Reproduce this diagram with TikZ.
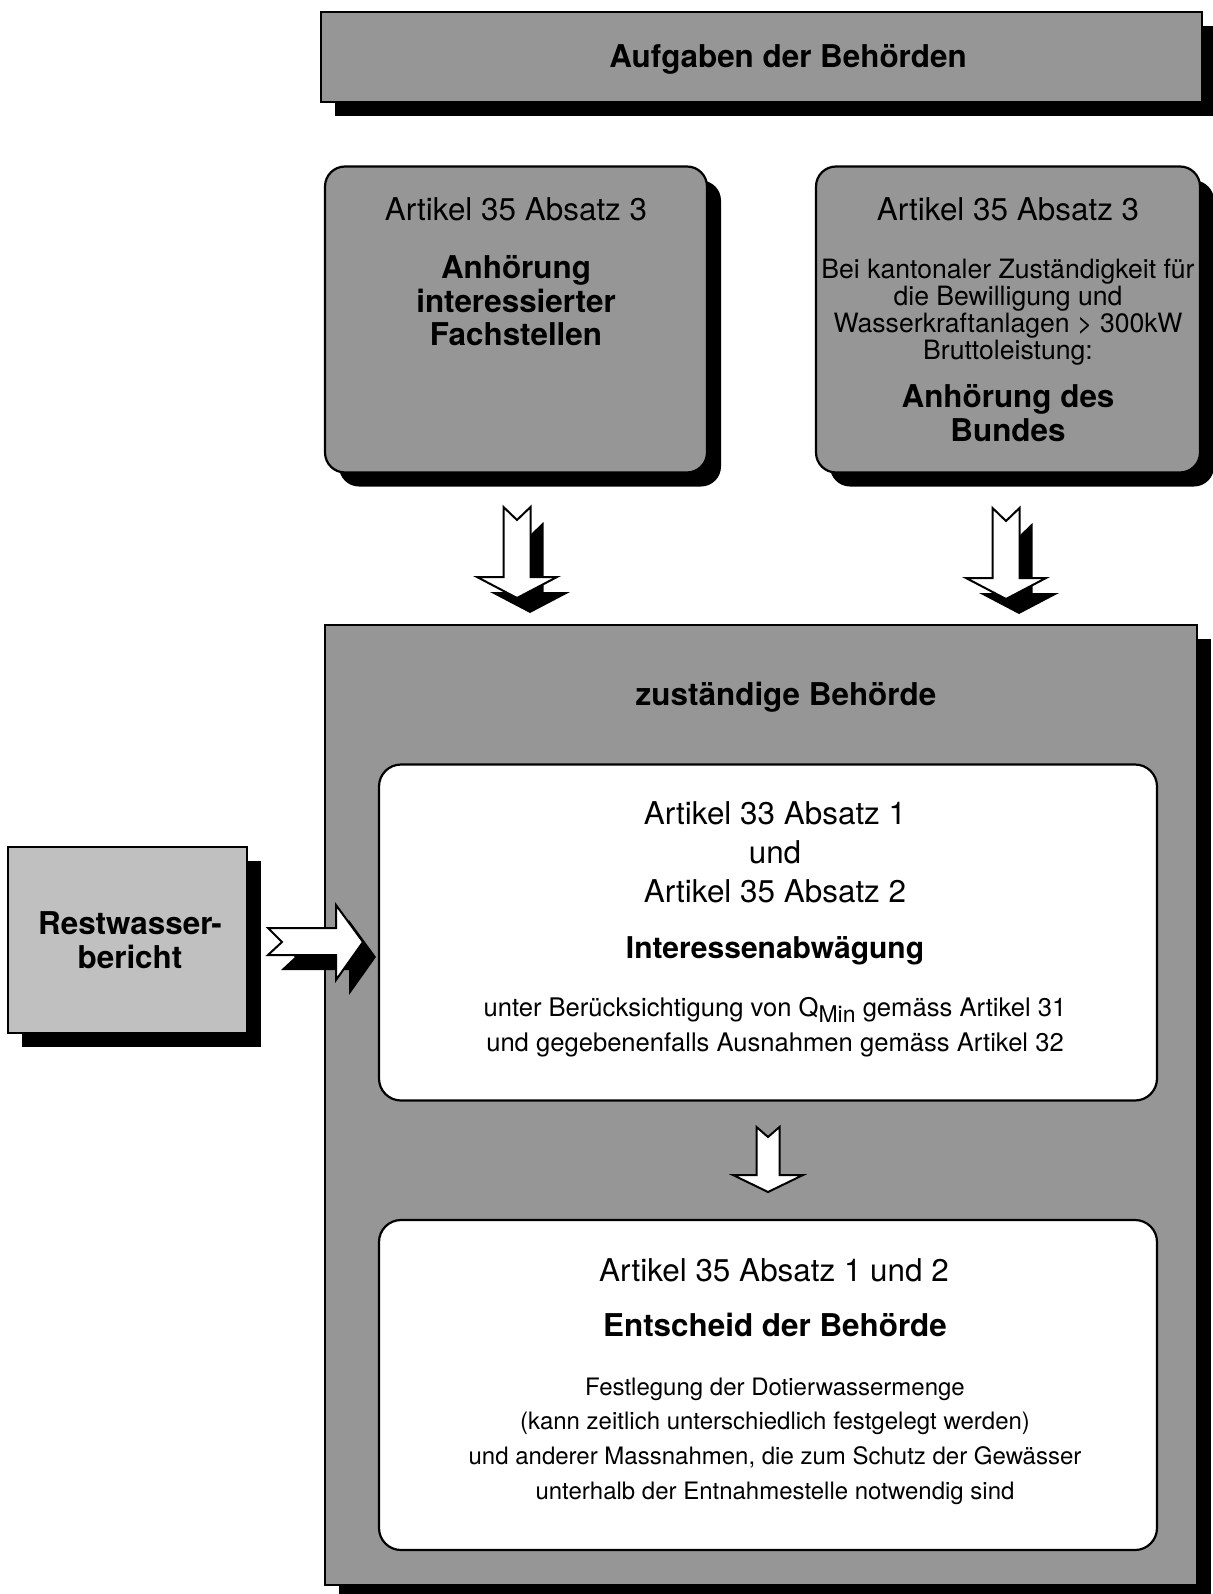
\documentclass[tikz,border=0pt]{standalone}
\usepackage{fontspec}
\setmainfont{TeX Gyre Heros}
\usetikzlibrary{calc,shadows}
\definecolor{panelgray}{RGB}{150,150,150}
\definecolor{lightpanel}{RGB}{192,192,192}
\tikzset{
    shade/.style = {drop shadow={shadow xshift=7pt, shadow yshift=-7pt, fill=black, opacity=1}},
    titlebox/.style = {draw, rectangle, line width=1.3pt, fill=panelgray, shade,
        inner sep=0pt},
    panel/.style = {draw, rectangle, rounded corners=10pt, line width=1.1pt,
        fill=panelgray, shade, inner sep=0pt},
    innerbox/.style = {draw, rectangle, rounded corners=11pt, line width=1.1pt,
        fill=white, inner sep=0pt},
    txt/.style = {align=center, inner sep=0pt, font=\fontsize{15.7}{19.5}\selectfont},
    boldtxt/.style = {align=center, inner sep=0pt, font=\fontsize{15.7}{16.8}\selectfont\bfseries},
    smalltxt/.style = {align=center, inner sep=0pt},
    bigarrow/.style = {draw, line width=1pt, fill=white, line join=miter},
    arrowshade/.style = {bigarrow, drop shadow={shadow xshift=6.5pt, shadow yshift=-7.5pt, fill=black, opacity=1}}
}
\newcommand{\Qmin}{Q\raisebox{-0.45ex}{\fontsize{11.5}{11.5}\selectfont Min}}

\begin{document}
\begin{tikzpicture}[x=0.5pt,y=-0.5pt]
        \useasboundingbox (0,0) rectangle (1213,1594);
        % boxes
        \node [titlebox, minimum width=440.5pt, minimum height=45pt] (title) at (761.5,57) {};
        \node [boldtxt] (titletext) at (788,59) {Aufgaben der Behörden};
        \node [panel, minimum width=191pt, minimum height=153pt] (fach) at (516,319.5) {};
        \node [panel, minimum width=192pt, minimum height=153pt] (bund) at (1008,319.5) {};
        \node [panel, sharp corners, line width=1.3pt, minimum width=436pt, minimum height=480pt] (beh) at (761,1105) {};
        \node [draw, rectangle, line width=1.3pt, fill=lightpanel, shade, minimum width=119.5pt,
            minimum height=93pt] (rest) at (127.5,940) {};
        \node [innerbox, minimum width=389pt, minimum height=168pt] (abw) at (768,932.5) {};
        \node [innerbox, minimum width=389pt, minimum height=165pt] (ent) at (768,1385) {};

        % texts
        \node [txt] (fachart) at (516,209) {Artikel 35 Absatz 3};
        \node [boldtxt] (fachtxt) at (516,301) {Anhörung\\interessierter\\Fachstellen};
        \node [txt] (bundart) at (1008,209) {Artikel 35 Absatz 3};
        \node [smalltxt, font=\fontsize{13.3}{13.6}\selectfont] (bundcond) at (1008,312)
            {Bei kantonaler Zuständigkeit für\\die Bewilligung und\\Wasserkraftanlagen > 300kW\\Bruttoleistung:};
        \node [boldtxt, font=\fontsize{15.7}{17.3}\selectfont\bfseries] (bundtxt) at (1008,413) {Anhörung des\\Bundes};
        \node [boldtxt] (behtxt) at (786,697) {zuständige Behörde};
        \node [boldtxt] (resttxt) at (130,940) {Restwasser-\\bericht};
        \node [txt] (abwart) at (775,852) {Artikel 33 Absatz 1\\und\\Artikel 35 Absatz 2};
        \node [boldtxt, font=\fontsize{15}{17}\selectfont\bfseries] (abwtxt) at (775,951) {Interessenabwägung};
        \node [smalltxt, font=\fontsize{12.8}{17.3}\selectfont] (abwcond) at (775,1027)
            {unter Berücksichtigung von \Qmin{} gemäss Artikel 31\\und gegebenenfalls Ausnahmen gemäss Artikel 32};
        \node [txt] (entart) at (774,1270) {Artikel 35 Absatz 1 und 2};
        \node [boldtxt] (enttxt) at (775,1325) {Entscheid der Behörde};
        \node [smalltxt, font=\fontsize{12}{17.3}\selectfont] (entcond) at (775,1441)
            {Festlegung der Dotierwassermenge\\(kann zeitlich unterschiedlich festgelegt werden)\\und anderer Massnahmen, die zum Schutz der Gewässer\\unterhalb der Entnahmestelle notwendig sind};

        % block arrows
        \coordinate (fachout) at (517,507);
        \coordinate (bundout) at (1006,508);
        \coordinate (abwout) at (768,1127);
        \coordinate (restout) at (268,928);
        \draw [arrowshade] (fachout) ++(-13.5,0) -- ++(13.5,13) -- ++(13.5,-13) -- ++(0,70)
            -- ++(26.5,0) -- ++(-40,21) -- ++(-40,-21) -- ++(26.5,0) -- cycle;
        \draw [arrowshade] (bundout) ++(-13.5,0) -- ++(13.5,13) -- ++(13.5,-13) -- ++(0,70)
            -- ++(26.5,0) -- ++(-40,21) -- ++(-40,-21) -- ++(26.5,0) -- cycle;
        \draw [bigarrow] (abwout) ++(-11.5,0) -- ++(11.5,10) -- ++(11.5,-10) -- ++(0,48)
            -- ++(23.5,0) -- ++(-35,17) -- ++(-35,-17) -- ++(23.5,0) -- cycle;
        \draw [arrowshade] (restout) -- ++(68,0) -- ++(0,-23) -- ++(27,37) -- ++(-27,38)
            -- ++(0,-25) -- ++(-68,0) -- ++(14,-13) -- cycle;
\end{tikzpicture}
\end{document}
